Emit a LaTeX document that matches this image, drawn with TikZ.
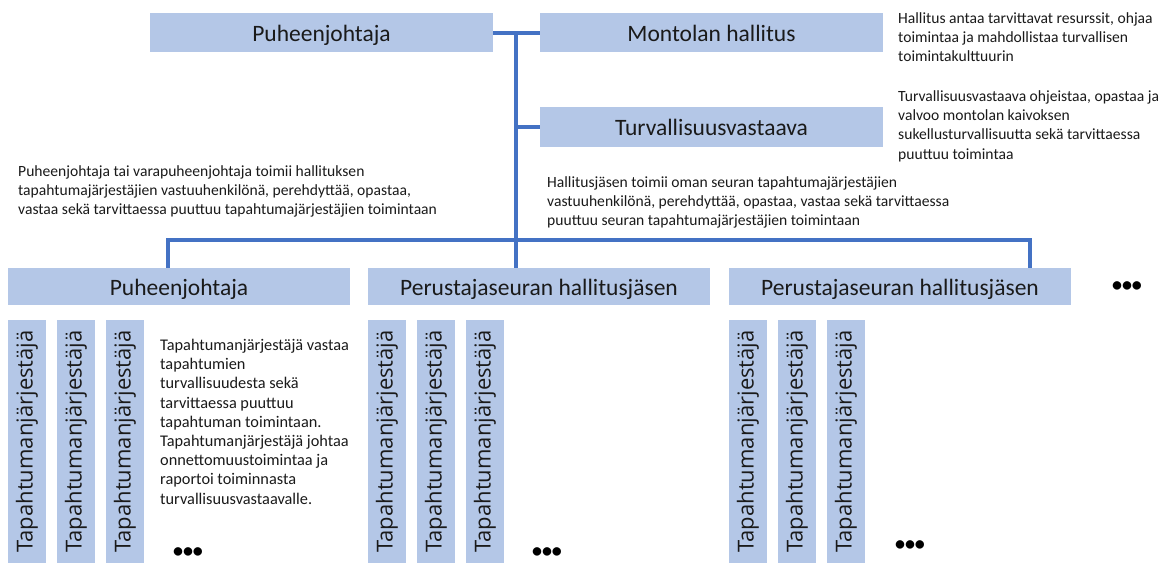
\documentclass[tikz,border=0pt]{standalone}
\usepackage{fontspec}
\setmainfont{Carlito}
\newfontfamily\vfont{Open Sans}
\definecolor{boxblue}{HTML}{B4C7E7}
\definecolor{lineblue}{HTML}{4472C4}
\definecolor{txt}{HTML}{1A1A1A}
\begin{document}
\begin{tikzpicture}[x=1pt,y=-1pt,
 rolebox/.style={fill=boxblue, draw=none, inner sep=0pt, minimum width=343pt, minimum height=39pt, text height=17pt, text depth=0pt, font=\fontsize{23.5}{28}\selectfont, text=txt},
 colbox/.style={fill=boxblue, draw=none, inner sep=0pt, rotate=90, minimum width=243pt, minimum height=38pt, font=\vfont\fontsize{22}{26}\selectfont, text=txt},
 desc/.style={anchor=north west, align=left, inner sep=0pt, font=\fontsize{15.6}{19.4}\selectfont, text=txt},
 conn/.style={draw=lineblue, line width=4pt},
 dots/.style={font=\bfseries\fontsize{20}{20}\selectfont, text=black, inner sep=0pt}]
\useasboundingbox[fill=white] (0,0) rectangle (1170,563);
% top level
\node[rolebox] (pj) at (321.5,32.5) {Puheenjohtaja};
\node[rolebox] (mh) at (711.5,32.5) {Montolan hallitus};
\node[rolebox, minimum height=40pt] (tv) at (711.5,127) {Turvallisuusvastaava};
% second level
\node[rolebox, minimum width=342pt, minimum height=37pt] (bpj) at (179,286.5) {Puheenjohtaja};
\node[rolebox, minimum width=342pt, minimum height=37pt] (ps1) at (539,286.5) {Perustajaseuran hallitusjäsen};
\node[rolebox, minimum width=342pt, minimum height=37pt] (ps2) at (900,286.5) {Perustajaseuran hallitusjäsen};
\node[dots] (d0) at (1127,287) {•••};
% columns
\foreach \x [count=\i] in {27,76,125,387,436,485,748,797,846}
  \node[colbox] (c\i) at (\x,441.5) {Tapahtumanjärjestäjä};
\node[dots] (d1) at (188,553) {•••};
\node[dots] (d2) at (547,553) {•••};
\node[dots] (d3) at (910,546) {•••};
% descriptions
\node[desc] (t1) at (898,12) {Hallitus antaa tarvittavat resurssit, ohjaa\\toimintaa ja mahdollistaa turvallisen\\toimintakulttuurin};
\node[desc] (t2) at (898,90) {Turvallisuusvastaava ohjeistaa, opastaa ja\\valvoo montolan kaivoksen\\sukellusturvallisuutta sekä tarvittaessa\\puuttuu toimintaa};
\node[desc] (t3) at (18,165) {Puheenjohtaja tai varapuheenjohtaja toimii hallituksen\\tapahtumajärjestäjien vastuuhenkilönä, perehdyttää, opastaa,\\vastaa sekä tarvittaessa puuttuu tapahtumajärjestäjien toimintaan};
\node[desc] (t4) at (547,176) {Hallitusjäsen toimii oman seuran tapahtumajärjestäjien\\vastuuhenkilönä, perehdyttää, opastaa, vastaa sekä tarvittaessa\\puuttuu seuran tapahtumajärjestäjien toimintaan};
\node[desc, font=\fontsize{16.3}{19.2}\selectfont] (t5) at (160,339) {Tapahtumanjärjestäjä vastaa\\tapahtumien\\turvallisuudesta sekä\\tarvittaessa puuttuu\\tapahtuman toimintaan.\\Tapahtumanjärjestäjä johtaa\\onnettomuustoimintaa ja\\raportoi toiminnasta\\turvallisuusvastaavalle.};
% connectors
\coordinate (j) at (516,32.5);
\coordinate (hl) at (168,240);
\coordinate (hr) at (1030,240);
\draw[conn] (pj.east) -- (mh.west);
\draw[conn] (j) -- (j |- ps1.north);
\draw[conn] (j |- tv.west) -- (tv.west);
\draw[conn] (hl |- bpj.north) -- (hl) -- (hr) -- (hr |- ps2.north);
\end{tikzpicture}
\end{document}
